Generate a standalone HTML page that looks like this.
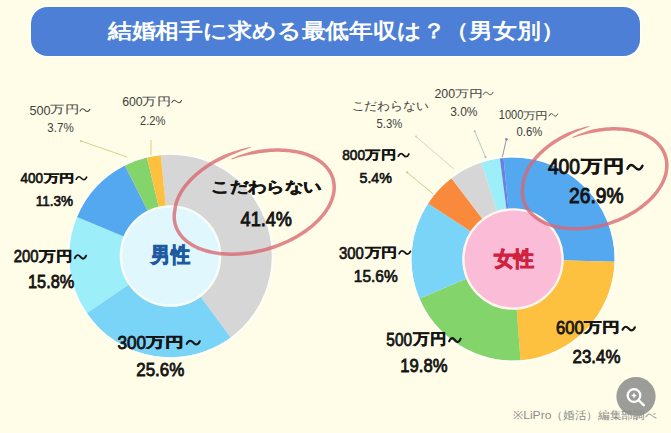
<!DOCTYPE html>
<html><head><meta charset="utf-8">
<style>
html,body{margin:0;padding:0;background:#fffde7;width:671px;height:433px;overflow:hidden}
svg{display:block;position:absolute;left:0;top:0}
text{font-family:"Liberation Sans",sans-serif}
</style></head><body>
<svg width="671" height="433" viewBox="0 0 671 433">
<rect x="0" y="0" width="671" height="433" fill="#fffde7"/>
<rect x="29.5" y="5.5" width="612" height="52" rx="18" ry="18" fill="#ffffff"/>
<rect x="31" y="7" width="609" height="49" rx="16.5" ry="16.5" fill="#4c7fd5"/>

<!-- left donut -->
<g>
<path d="M170.50,256.00 L160.79,155.17 A101.3,101.3 0 0 1 230.70,337.47 Z" fill="#d6d6d6"/>
<path d="M170.50,256.00 L230.70,337.47 A101.3,101.3 0 0 1 86.82,313.09 Z" fill="#7ad4f8"/>
<path d="M170.50,256.00 L86.82,313.09 A101.3,101.3 0 0 1 76.97,217.10 Z" fill="#9ceef8"/>
<path d="M170.50,256.00 L76.97,217.10 A101.3,101.3 0 0 1 124.92,165.53 Z" fill="#53a8f0"/>
<path d="M170.50,256.00 L124.92,165.53 A101.3,101.3 0 0 1 146.99,157.47 Z" fill="#84d46c"/>
<path d="M170.50,256.00 L146.99,157.47 A101.3,101.3 0 0 1 160.79,155.17 Z" fill="#fdc03f"/>
<circle cx="170.5" cy="256" r="102.39999999999999" fill="none" stroke="#ffffff" stroke-opacity="0.7" stroke-width="2"/>
<circle cx="170.5" cy="256" r="49.6" fill="#e0f7fd" stroke="#f8fdf4" stroke-width="2.4"/>
</g>
<!-- right donut -->
<g>
<path d="M513.00,259.00 L503.62,157.93 A101.5,101.5 0 0 1 614.46,261.73 Z" fill="#53a8f0"/>
<path d="M513.00,259.00 L614.46,261.73 A101.5,101.5 0 0 1 520.47,360.22 Z" fill="#fdc03f"/>
<path d="M513.00,259.00 L520.47,360.22 A101.5,101.5 0 0 1 419.53,298.56 Z" fill="#84d46c"/>
<path d="M513.00,259.00 L419.53,298.56 A101.5,101.5 0 0 1 428.09,203.39 Z" fill="#7ad4f8"/>
<path d="M513.00,259.00 L428.09,203.39 A101.5,101.5 0 0 1 451.44,178.30 Z" fill="#f98a3c"/>
<path d="M513.00,259.00 L451.44,178.30 A101.5,101.5 0 0 1 481.20,162.61 Z" fill="#d6d6d6"/>
<path d="M513.00,259.00 L481.20,162.61 A101.5,101.5 0 0 1 499.82,158.36 Z" fill="#9ceef8"/>
<path d="M513.00,259.00 L499.82,158.36 A101.5,101.5 0 0 1 503.62,157.93 Z" fill="#6a80e2"/>
<circle cx="513" cy="259" r="102.6" fill="none" stroke="#ffffff" stroke-opacity="0.7" stroke-width="2"/>
<circle cx="513" cy="259" r="49.6" fill="#fbbcd8" stroke="#fdf6ee" stroke-width="2.4"/>
</g>

<!-- leader lines -->
<g stroke-width="0.9" fill="none">
<line x1="81" y1="141" x2="127" y2="157" stroke="#cfcb8a"/>
<line x1="151" y1="140" x2="151" y2="155" stroke="#e6c466"/>
<line x1="416.1" y1="136.6" x2="453.7" y2="168.8" stroke="#cfcfc6"/>
<line x1="474.8" y1="131.3" x2="485.5" y2="157.2" stroke="#aac4c0"/>
<line x1="506.4" y1="139.3" x2="502.3" y2="157.2" stroke="#8088b0"/>
<line x1="407.2" y1="172.4" x2="433.1" y2="193.9" stroke="#c9c68a"/>
</g>
<g>
<circle cx="81" cy="141" r="1.1" fill="#cfcb8a"/>
<circle cx="416.1" cy="136.6" r="1.1" fill="#cfcfc6"/>
<circle cx="474.8" cy="131.3" r="1.1" fill="#aac4c0"/>
<circle cx="485.5" cy="157.2" r="1.1" fill="#aac4c0"/>
<circle cx="506.4" cy="139.3" r="1.3" fill="#8088b0"/>
<circle cx="407.2" cy="172.4" r="1.1" fill="#c9c68a"/>
</g>

<!-- zoom button -->
<circle cx="636" cy="396.5" r="19.6" fill="#9c9c98"/>
<g stroke="#ffffff" stroke-width="2.3" fill="none" stroke-linecap="round">
<circle cx="634" cy="395.5" r="6.3"/>
<line x1="638.8" y1="400.3" x2="644" y2="405.3"/>
</g>
<path d="M634,392.6 L634.9,394.6 L636.9,395.5 L634.9,396.4 L634,398.4 L633.1,396.4 L631.1,395.5 L633.1,394.6 Z" fill="#ffffff"/>

<text x="29.44" y="114.72" font-weight="normal" fill="#404040" textLength="21.10" lengthAdjust="spacingAndGlyphs"><tspan font-size="13.10" dy="0.00">500</tspan></text>
<text x="50.34" y="114.99" font-weight="normal" fill="#404040" textLength="28.80" lengthAdjust="spacingAndGlyphs"><tspan font-size="10.94" dy="-1.53">万円</tspan></text>
<path d="M80.00,111.08 C81.78,107.61 83.56,108.71 84.95,110.14 S88.11,112.67 89.89,109.19" fill="none" stroke="#404040" stroke-width="1.02" stroke-linecap="round"/>
<text x="47.34" y="132.44" font-weight="normal" fill="#404040" textLength="26.32" lengthAdjust="spacingAndGlyphs"><tspan font-size="12.96" dy="0.00">3.7%</tspan></text>
<text x="122.20" y="105.58" font-weight="normal" fill="#404040" textLength="20.50" lengthAdjust="spacingAndGlyphs"><tspan font-size="12.96" dy="0.00">600</tspan></text>
<text x="142.41" y="106.25" font-weight="normal" fill="#404040" textLength="28.32" lengthAdjust="spacingAndGlyphs"><tspan font-size="10.82" dy="-1.51">万円</tspan></text>
<path d="M171.78,102.42 C173.53,98.98 175.28,100.08 176.64,101.48 S179.75,103.99 181.49,100.55" fill="none" stroke="#404040" stroke-width="1.01" stroke-linecap="round"/>
<text x="140.10" y="124.58" font-weight="normal" fill="#404040" textLength="25.32" lengthAdjust="spacingAndGlyphs"><tspan font-size="13.10" dy="0.00">2.2%</tspan></text>
<text x="20.62" y="183.38" font-weight="bold" fill="#141414" textLength="22.49" lengthAdjust="spacingAndGlyphs"><tspan font-size="14.23" dy="0.00" font-weight="normal" stroke="#141414" stroke-width="0.64">400</tspan></text>
<text x="43.53" y="183.28" font-weight="bold" fill="#141414" textLength="30.78" lengthAdjust="spacingAndGlyphs"><tspan font-size="11.39" dy="-1.59" stroke="#141414" stroke-width="0.28">万円</tspan></text>
<path d="M76.16,179.28 C78.06,175.50 79.95,176.71 81.43,178.25 S84.80,181.00 86.69,177.22" fill="none" stroke="#141414" stroke-width="1.62" stroke-linecap="round"/>
<text x="35.72" y="205.78" font-weight="bold" fill="#141414" textLength="37.28" lengthAdjust="spacingAndGlyphs"><tspan font-size="15.07" dy="0.00" font-weight="normal" stroke="#141414" stroke-width="0.68">11.3%</tspan></text>
<text x="13.72" y="261.94" font-weight="bold" fill="#141414" textLength="24.74" lengthAdjust="spacingAndGlyphs"><tspan font-size="17.04" dy="0.00" font-weight="normal" stroke="#141414" stroke-width="0.77">200</tspan></text>
<text x="39.43" y="263.07" font-weight="bold" fill="#141414" textLength="33.15" lengthAdjust="spacingAndGlyphs"><tspan font-size="13.58" dy="-1.90" stroke="#141414" stroke-width="0.34">万円</tspan></text>
<path d="M74.81,258.13 C76.85,253.60 78.89,255.04 80.47,256.89 S84.09,260.18 86.13,255.66" fill="none" stroke="#141414" stroke-width="1.94" stroke-linecap="round"/>
<text x="28.06" y="287.90" font-weight="bold" fill="#141414" textLength="46.18" lengthAdjust="spacingAndGlyphs"><tspan font-size="17.89" dy="0.00" font-weight="normal" stroke="#141414" stroke-width="0.80">15.8%</tspan></text>
<text x="117.48" y="348.78" font-weight="bold" fill="#141414" textLength="28.62" lengthAdjust="spacingAndGlyphs"><tspan font-size="18.03" dy="0.00" font-weight="normal" stroke="#141414" stroke-width="0.81">300</tspan></text>
<text x="146.36" y="348.76" font-weight="bold" fill="#141414" textLength="37.44" lengthAdjust="spacingAndGlyphs"><tspan font-size="14.42" dy="-2.02" stroke="#141414" stroke-width="0.36">万円</tspan></text>
<path d="M186.73,343.86 C189.08,339.07 191.43,340.60 193.25,342.56 S197.43,346.04 199.78,341.25" fill="none" stroke="#141414" stroke-width="2.05" stroke-linecap="round"/>
<text x="136.24" y="376.04" font-weight="bold" fill="#141414" textLength="48.14" lengthAdjust="spacingAndGlyphs"><tspan font-size="17.75" dy="0.00" font-weight="normal" stroke="#141414" stroke-width="0.80">25.6%</tspan></text>
<text x="211.12" y="195.04" font-weight="bold" fill="#141414" textLength="110.54" lengthAdjust="spacingAndGlyphs"><tspan font-size="15.32" dy="-2.60" stroke="#141414" stroke-width="0.38">こだわらない</tspan></text>
<text x="240.62" y="225.92" font-weight="bold" fill="#141414" textLength="51.38" lengthAdjust="spacingAndGlyphs"><tspan font-size="20.42" dy="0.00" font-weight="normal" stroke="#141414" stroke-width="0.92">41.4%</tspan></text>
<text x="151.46" y="264.98" font-weight="bold" fill="#1d5aa0" textLength="38.22" lengthAdjust="spacingAndGlyphs"><tspan font-size="20.53" dy="-2.87" stroke="#1d5aa0" stroke-width="0.92">男性</tspan></text>
<text x="493.56" y="268.66" font-weight="bold" fill="#d0223f" textLength="39.92" lengthAdjust="spacingAndGlyphs"><tspan font-size="21.17" dy="-2.96" stroke="#d0223f" stroke-width="0.95">女性</tspan></text>
<text x="351.64" y="111.62" font-weight="normal" fill="#404040" textLength="76.68" lengthAdjust="spacingAndGlyphs"><tspan font-size="12.44" dy="-2.12">こだわらない</tspan></text>
<text x="376.58" y="127.92" font-weight="normal" fill="#404040" textLength="25.70" lengthAdjust="spacingAndGlyphs"><tspan font-size="13.24" dy="0.00">5.3%</tspan></text>
<text x="434.44" y="97.90" font-weight="normal" fill="#404040" textLength="20.69" lengthAdjust="spacingAndGlyphs"><tspan font-size="12.54" dy="0.00">200</tspan></text>
<text x="454.75" y="98.16" font-weight="normal" fill="#404040" textLength="27.84" lengthAdjust="spacingAndGlyphs"><tspan font-size="10.47" dy="-1.47">万円</tspan></text>
<path d="M483.34,94.34 C485.07,91.01 486.79,92.07 488.13,93.43 S491.19,95.85 492.91,92.52" fill="none" stroke="#404040" stroke-width="0.98" stroke-linecap="round"/>
<text x="450.20" y="115.66" font-weight="normal" fill="#404040" textLength="27.32" lengthAdjust="spacingAndGlyphs"><tspan font-size="12.39" dy="0.00">3.0%</tspan></text>
<text x="498.82" y="119.00" font-weight="normal" fill="#404040" textLength="24.56" lengthAdjust="spacingAndGlyphs"><tspan font-size="12.54" dy="0.00">1000</tspan></text>
<text x="522.50" y="120.04" font-weight="normal" fill="#404040" textLength="25.43" lengthAdjust="spacingAndGlyphs"><tspan font-size="10.42" dy="-1.46">万円</tspan></text>
<path d="M549.05,115.84 C550.59,112.51 552.13,113.57 553.33,114.93 S556.07,117.35 557.61,114.02" fill="none" stroke="#404040" stroke-width="0.98" stroke-linecap="round"/>
<text x="516.48" y="135.62" font-weight="normal" fill="#404040" textLength="25.80" lengthAdjust="spacingAndGlyphs"><tspan font-size="12.54" dy="0.00">0.6%</tspan></text>
<text x="342.24" y="159.74" font-weight="bold" fill="#141414" textLength="22.80" lengthAdjust="spacingAndGlyphs"><tspan font-size="15.21" dy="0.00" font-weight="normal" stroke="#141414" stroke-width="0.68">800</tspan></text>
<text x="365.49" y="160.85" font-weight="bold" fill="#141414" textLength="30.62" lengthAdjust="spacingAndGlyphs"><tspan font-size="12.14" dy="-1.70" stroke="#141414" stroke-width="0.30">万円</tspan></text>
<path d="M398.33,156.22 C400.22,152.18 402.11,153.46 403.58,155.12 S406.94,158.05 408.84,154.01" fill="none" stroke="#141414" stroke-width="1.73" stroke-linecap="round"/>
<text x="359.48" y="182.88" font-weight="bold" fill="#141414" textLength="32.42" lengthAdjust="spacingAndGlyphs"><tspan font-size="15.21" dy="0.00" font-weight="normal" stroke="#141414" stroke-width="0.68">5.4%</tspan></text>
<text x="339.10" y="258.50" font-weight="bold" fill="#141414" textLength="24.72" lengthAdjust="spacingAndGlyphs"><tspan font-size="15.92" dy="0.00" font-weight="normal" stroke="#141414" stroke-width="0.72">300</tspan></text>
<text x="364.68" y="258.43" font-weight="bold" fill="#141414" textLength="32.38" lengthAdjust="spacingAndGlyphs"><tspan font-size="12.72" dy="-1.78" stroke="#141414" stroke-width="0.32">万円</tspan></text>
<path d="M399.15,253.63 C401.17,249.40 403.20,250.75 404.77,252.48 S408.37,255.55 410.40,251.32" fill="none" stroke="#141414" stroke-width="1.81" stroke-linecap="round"/>
<text x="353.82" y="281.98" font-weight="bold" fill="#141414" textLength="43.94" lengthAdjust="spacingAndGlyphs"><tspan font-size="15.92" dy="0.00" font-weight="normal" stroke="#141414" stroke-width="0.72">15.6%</tspan></text>
<text x="386.34" y="346.10" font-weight="bold" fill="#141414" textLength="25.73" lengthAdjust="spacingAndGlyphs"><tspan font-size="18.45" dy="0.00" font-weight="normal" stroke="#141414" stroke-width="0.83">500</tspan></text>
<text x="413.21" y="346.44" font-weight="bold" fill="#141414" textLength="33.02" lengthAdjust="spacingAndGlyphs"><tspan font-size="14.66" dy="-2.05" stroke="#141414" stroke-width="0.37">万円</tspan></text>
<path d="M449.15,341.35 C451.22,336.45 453.29,338.01 454.90,340.01 S458.58,343.58 460.65,338.68" fill="none" stroke="#141414" stroke-width="2.10" stroke-linecap="round"/>
<text x="400.30" y="372.22" font-weight="bold" fill="#141414" textLength="47.18" lengthAdjust="spacingAndGlyphs"><tspan font-size="17.46" dy="0.00" font-weight="normal" stroke="#141414" stroke-width="0.79">19.8%</tspan></text>
<text x="555.96" y="334.40" font-weight="bold" fill="#141414" textLength="27.66" lengthAdjust="spacingAndGlyphs"><tspan font-size="17.89" dy="0.00" font-weight="normal" stroke="#141414" stroke-width="0.80">600</tspan></text>
<text x="584.35" y="334.36" font-weight="bold" fill="#141414" textLength="35.58" lengthAdjust="spacingAndGlyphs"><tspan font-size="14.28" dy="-2.00" stroke="#141414" stroke-width="0.36">万円</tspan></text>
<path d="M622.50,329.80 C624.73,325.05 626.96,326.56 628.69,328.50 S632.65,331.96 634.88,327.21" fill="none" stroke="#141414" stroke-width="2.03" stroke-linecap="round"/>
<text x="572.58" y="363.18" font-weight="bold" fill="#141414" textLength="47.80" lengthAdjust="spacingAndGlyphs"><tspan font-size="17.89" dy="0.00" font-weight="normal" stroke="#141414" stroke-width="0.80">23.4%</tspan></text>
<text x="547.90" y="174.34" font-weight="bold" fill="#141414" textLength="32.12" lengthAdjust="spacingAndGlyphs"><tspan font-size="21.41" dy="0.00" font-weight="normal" stroke="#141414" stroke-width="0.96">400</tspan></text>
<text x="581.48" y="174.78" font-weight="bold" fill="#141414" textLength="42.66" lengthAdjust="spacingAndGlyphs"><tspan font-size="17.10" dy="-2.39" stroke="#141414" stroke-width="0.43">万円</tspan></text>
<path d="M627.43,168.75 C630.14,163.07 632.85,164.88 634.95,167.20 S639.77,171.34 642.48,165.65" fill="none" stroke="#141414" stroke-width="2.43" stroke-linecap="round"/>
<text x="569.10" y="203.44" font-weight="bold" fill="#141414" textLength="54.42" lengthAdjust="spacingAndGlyphs"><tspan font-size="21.41" dy="0.00" font-weight="normal" stroke="#141414" stroke-width="0.96">26.9%</tspan></text>
<text x="512.58" y="420.74" font-weight="normal" fill="#8c8c8c" textLength="143.84" lengthAdjust="spacingAndGlyphs"><tspan font-size="11.44" dy="-1.95">※LiPro（婚活）編集部調べ</tspan></text>
<text x="107.80" y="41.94" font-weight="bold" fill="#ffffff" textLength="456.60" lengthAdjust="spacingAndGlyphs"><tspan font-size="21.06" dy="-3.58">結婚相手に求める最低年収は？（男女別）</tspan></text>

<!-- red ellipses -->
<g fill="#d8666f" opacity="0.78">
<path d="M250.59,146.95 L247.96,147.50 L245.33,148.10 L242.71,148.75 L240.12,149.44 L237.54,150.18 L234.98,150.96 L232.44,151.78 L229.93,152.64 L227.44,153.55 L224.98,154.50 L222.58,155.53 L220.24,156.66 L217.94,157.83 L215.68,159.03 L213.46,160.27 L211.29,161.54 L209.16,162.83 L207.08,164.16 L205.05,165.52 L203.07,166.90 L201.14,168.30 L199.27,169.74 L197.45,171.19 L195.69,172.67 L193.98,174.16 L192.34,175.68 L190.75,177.21 L189.23,178.76 L187.77,180.32 L186.37,181.90 L185.04,183.49 L183.77,185.09 L182.57,186.70 L181.44,188.32 L180.38,189.95 L179.38,191.58 L178.46,193.22 L177.61,194.86 L176.83,196.50 L176.11,198.14 L175.48,199.78 L174.91,201.42 L174.42,203.06 L174.00,204.68 L173.66,206.31 L173.39,207.92 L173.20,209.43 L172.92,210.95 L172.70,212.55 L172.55,214.15 L172.47,215.73 L172.47,217.31 L172.55,218.87 L172.69,220.42 L172.92,221.95 L173.21,223.46 L173.59,224.96 L174.03,226.43 L174.55,227.89 L175.14,229.31 L175.81,230.72 L176.54,232.09 L177.35,233.43 L178.22,234.75 L179.16,236.03 L180.17,237.28 L181.25,238.50 L182.39,239.68 L183.59,240.83 L184.85,241.94 L186.18,243.01 L187.56,244.04 L189.00,245.03 L190.50,245.99 L192.05,246.90 L193.66,247.77 L195.32,248.60 L197.02,249.39 L198.78,250.14 L200.59,250.84 L202.44,251.50 L204.33,252.11 L206.27,252.68 L208.25,253.20 L210.27,253.68 L212.32,254.12 L214.41,254.50 L216.54,254.85 L218.70,255.14 L220.88,255.39 L223.10,255.59 L225.34,255.75 L227.61,255.86 L229.90,255.92 L232.21,255.94 L234.54,255.90 L236.89,255.82 L239.25,255.70 L241.62,255.53 L244.01,255.31 L246.40,255.04 L248.80,254.73 L251.21,254.38 L253.62,253.98 L256.02,253.53 L258.43,253.04 L260.83,252.50 L263.23,251.92 L265.62,251.30 L268.00,250.64 L270.37,249.93 L272.72,249.18 L275.06,248.39 L277.38,247.56 L279.67,246.69 L281.95,245.78 L284.21,244.84 L286.43,243.86 L288.63,242.84 L290.80,241.78 L292.94,240.69 L295.05,239.57 L297.12,238.42 L299.15,237.23 L301.14,236.01 L303.10,234.76 L305.01,233.49 L306.88,232.18 L308.70,230.85 L310.47,229.50 L312.20,228.12 L313.88,226.71 L315.50,225.29 L317.07,223.84 L318.59,222.38 L320.05,220.89 L321.46,219.39 L322.80,217.87 L324.09,216.34 L325.31,214.79 L326.48,213.23 L327.58,211.66 L328.62,210.08 L329.59,208.49 L330.50,206.89 L331.34,205.29 L332.11,203.68 L332.81,202.07 L333.45,200.45 L334.01,198.83 L334.50,197.22 L334.92,195.61 L335.27,193.99 L335.55,192.39 L335.75,190.79 L335.88,189.20 L335.93,187.61 L335.91,186.04 L335.82,184.49 L335.65,182.94 L335.41,181.41 L335.09,179.90 L334.69,178.41 L334.23,176.95 L333.69,175.50 L333.07,174.08 L332.39,172.69 L331.63,171.32 L330.81,169.98 L329.92,168.68 L328.95,167.40 L327.93,166.16 L326.83,164.96 L325.68,163.79 L324.46,162.65 L323.17,161.55 L321.83,160.49 L320.43,159.47 L318.97,158.49 L317.46,157.55 L315.89,156.65 L314.27,155.79 L312.60,154.97 L310.87,154.19 L309.08,153.46 L307.22,152.79 L305.33,152.18 L303.40,151.60 L301.42,151.08 L299.41,150.60 L297.37,150.16 L295.28,149.77 L293.17,149.43 L291.03,149.13 L288.85,148.88 L286.65,148.67 L284.42,148.52 L282.17,148.41 L279.90,148.34 L277.61,148.32 L275.30,148.35 L272.98,148.43 L270.64,148.55 L268.29,148.72 L265.93,148.93 L263.57,149.19 L261.20,149.49 L258.82,149.84 L256.44,150.23 L254.08,150.74 L251.74,151.34 L249.40,151.99 L247.08,152.68 L244.77,153.40 L242.47,154.17 L240.19,154.98 L237.93,155.83 L235.69,156.71 L233.47,157.63 L231.28,158.59 L231.59,159.41 L233.86,158.69 L236.14,158.01 L238.43,157.37 L240.74,156.77 L243.05,156.21 L245.38,155.69 L247.71,155.21 L250.05,154.78 L252.38,154.39 L254.72,154.04 L257.05,153.68 L259.36,153.30 L261.67,152.96 L263.98,152.66 L266.28,152.41 L268.57,152.20 L270.86,152.04 L273.12,151.92 L275.38,151.85 L277.62,151.82 L279.84,151.84 L282.04,151.90 L284.21,152.01 L286.36,152.16 L288.49,152.36 L290.59,152.60 L292.65,152.89 L294.68,153.22 L296.68,153.59 L298.64,154.01 L300.56,154.47 L302.45,154.97 L304.29,155.52 L306.09,156.10 L307.83,156.73 L309.49,157.41 L311.11,158.14 L312.68,158.90 L314.20,159.71 L315.66,160.55 L317.07,161.43 L318.42,162.34 L319.72,163.28 L320.95,164.26 L322.12,165.26 L323.24,166.30 L324.29,167.36 L325.28,168.46 L326.21,169.58 L327.07,170.72 L327.88,171.89 L328.61,173.09 L329.29,174.31 L329.90,175.55 L330.44,176.81 L330.92,178.09 L331.33,179.39 L331.68,180.71 L331.96,182.05 L332.18,183.41 L332.33,184.78 L332.42,186.17 L332.43,187.58 L332.39,189.00 L332.27,190.43 L332.09,191.87 L331.84,193.33 L331.52,194.79 L331.14,196.27 L330.68,197.75 L330.16,199.23 L329.58,200.73 L328.93,202.22 L328.21,203.72 L327.42,205.21 L326.58,206.71 L325.66,208.20 L324.68,209.69 L323.64,211.18 L322.54,212.66 L321.38,214.13 L320.15,215.58 L318.87,217.03 L317.53,218.47 L316.13,219.89 L314.67,221.30 L313.16,222.69 L311.60,224.06 L309.98,225.41 L308.32,226.74 L306.60,228.05 L304.84,229.34 L303.03,230.60 L301.18,231.83 L299.29,233.04 L297.35,234.22 L295.38,235.38 L293.37,236.50 L291.32,237.59 L289.24,238.65 L287.13,239.68 L284.99,240.67 L282.82,241.62 L280.63,242.55 L278.41,243.43 L276.17,244.28 L273.91,245.08 L271.63,245.85 L269.33,246.58 L267.03,247.27 L264.71,247.92 L262.38,248.53 L260.04,249.09 L257.70,249.61 L255.35,250.09 L253.01,250.53 L250.66,250.92 L248.32,251.27 L245.99,251.57 L243.66,251.83 L241.34,252.04 L239.03,252.21 L236.74,252.33 L234.46,252.40 L232.20,252.44 L229.96,252.42 L227.74,252.36 L225.55,252.26 L223.38,252.11 L221.24,251.91 L219.13,251.67 L217.05,251.38 L215.01,251.06 L213.00,250.68 L211.03,250.27 L209.10,249.81 L207.21,249.31 L205.37,248.77 L203.56,248.18 L201.81,247.56 L200.10,246.89 L198.44,246.19 L196.83,245.45 L195.28,244.67 L193.77,243.85 L192.33,243.00 L190.93,242.11 L189.60,241.20 L188.32,240.24 L187.11,239.26 L185.95,238.24 L184.85,237.20 L183.82,236.13 L182.85,235.02 L181.94,233.90 L181.09,232.74 L180.31,231.57 L179.59,230.36 L178.93,229.14 L178.34,227.89 L177.82,226.63 L177.36,225.34 L176.96,224.03 L176.63,222.70 L176.37,221.36 L176.17,220.00 L176.04,218.62 L175.97,217.23 L175.97,215.82 L176.04,214.39 L176.18,212.96 L176.38,211.51 L176.66,209.96 L176.85,208.42 L177.10,206.96 L177.41,205.48 L177.79,204.00 L178.24,202.50 L178.76,200.99 L179.35,199.47 L180.01,197.95 L180.74,196.42 L181.54,194.89 L182.40,193.35 L183.34,191.82 L184.34,190.28 L185.41,188.75 L186.55,187.22 L187.75,185.70 L189.02,184.19 L190.36,182.68 L191.76,181.18 L193.22,179.70 L194.74,178.22 L196.32,176.76 L197.96,175.32 L199.66,173.90 L201.42,172.49 L203.24,171.11 L205.10,169.75 L207.02,168.41 L208.99,167.09 L211.01,165.80 L213.08,164.54 L215.19,163.31 L217.35,162.11 L219.55,160.94 L221.79,159.80 L224.07,158.69 L226.36,157.56 L228.67,156.41 L231.01,155.29 L233.38,154.22 L235.79,153.18 L238.23,152.18 L240.70,151.22 L243.19,150.30 L245.71,149.42 L248.25,148.59 L250.81,147.80 Z"/>
<path d="M589.26,125.96 L586.88,126.50 L584.51,127.08 L582.15,127.71 L579.81,128.38 L577.49,129.10 L575.18,129.86 L572.90,130.65 L570.64,131.49 L568.40,132.37 L566.19,133.29 L564.04,134.29 L561.95,135.39 L559.90,136.52 L557.88,137.69 L555.91,138.88 L553.97,140.11 L552.08,141.37 L550.23,142.65 L548.43,143.96 L546.68,145.30 L544.97,146.66 L543.32,148.05 L541.71,149.45 L540.16,150.88 L538.66,152.32 L537.22,153.79 L535.83,155.27 L534.50,156.76 L533.23,158.27 L532.01,159.79 L530.86,161.33 L529.76,162.87 L528.73,164.42 L527.76,165.99 L526.85,167.55 L526.01,169.12 L525.22,170.70 L524.51,172.28 L523.86,173.86 L523.27,175.44 L522.75,177.02 L522.30,178.59 L521.91,180.16 L521.59,181.72 L521.34,183.28 L521.16,184.83 L521.04,186.28 L520.84,187.73 L520.70,189.27 L520.62,190.80 L520.61,192.32 L520.67,193.82 L520.80,195.32 L520.99,196.80 L521.25,198.27 L521.58,199.71 L521.97,201.14 L522.43,202.55 L522.96,203.94 L523.55,205.30 L524.20,206.64 L524.92,207.95 L525.70,209.23 L526.55,210.49 L527.45,211.71 L528.42,212.91 L529.44,214.07 L530.52,215.19 L531.66,216.29 L532.85,217.34 L534.10,218.36 L535.40,219.35 L536.75,220.29 L538.15,221.20 L539.60,222.07 L541.10,222.90 L542.64,223.69 L544.23,224.44 L545.86,225.14 L547.53,225.81 L549.24,226.43 L551.00,227.01 L552.78,227.55 L554.61,228.04 L556.47,228.49 L558.36,228.90 L560.28,229.26 L562.23,229.58 L564.21,229.85 L566.21,230.08 L568.24,230.27 L570.29,230.40 L572.37,230.50 L574.46,230.55 L576.56,230.55 L578.69,230.51 L580.82,230.42 L582.97,230.29 L585.13,230.11 L587.30,229.89 L589.47,229.62 L591.65,229.31 L593.83,228.96 L596.01,228.56 L598.19,228.12 L600.36,227.64 L602.53,227.11 L604.70,226.54 L606.85,225.93 L608.99,225.28 L611.13,224.59 L613.24,223.86 L615.35,223.09 L617.43,222.28 L619.49,221.44 L621.53,220.56 L623.55,219.64 L625.55,218.68 L627.52,217.69 L629.45,216.67 L631.36,215.61 L633.24,214.52 L635.09,213.40 L636.89,212.25 L638.67,211.08 L640.40,209.87 L642.10,208.63 L643.75,207.37 L645.36,206.08 L646.93,204.77 L648.45,203.44 L649.93,202.08 L651.36,200.71 L652.74,199.31 L654.07,197.89 L655.34,196.46 L656.57,195.01 L657.74,193.54 L658.85,192.07 L659.91,190.57 L660.92,189.07 L661.86,187.56 L662.75,186.03 L663.58,184.50 L664.34,182.96 L665.05,181.42 L665.69,179.87 L666.27,178.32 L666.79,176.77 L667.24,175.21 L667.63,173.66 L667.96,172.11 L668.21,170.56 L668.40,169.02 L668.53,167.49 L668.59,165.96 L668.58,164.45 L668.50,162.95 L668.35,161.45 L668.14,159.98 L667.86,158.52 L667.52,157.07 L667.10,155.65 L666.63,154.25 L666.08,152.87 L665.47,151.51 L664.80,150.18 L664.06,148.88 L663.26,147.60 L662.40,146.36 L661.48,145.14 L660.49,143.96 L659.45,142.81 L658.36,141.69 L657.20,140.61 L655.99,139.56 L654.73,138.55 L653.42,137.58 L652.05,136.64 L650.64,135.74 L649.17,134.89 L647.66,134.07 L646.11,133.29 L644.50,132.55 L642.84,131.86 L641.12,131.23 L639.37,130.65 L637.59,130.11 L635.77,129.61 L633.92,129.16 L632.03,128.75 L630.12,128.39 L628.18,128.07 L626.21,127.79 L624.22,127.56 L622.20,127.38 L620.17,127.24 L618.11,127.14 L616.04,127.09 L613.95,127.08 L611.84,127.12 L609.73,127.21 L607.60,127.33 L605.46,127.51 L603.32,127.72 L601.17,127.98 L599.02,128.29 L596.87,128.63 L594.72,129.02 L592.58,129.53 L590.47,130.12 L588.36,130.76 L586.27,131.43 L584.19,132.14 L582.13,132.90 L580.09,133.69 L578.06,134.51 L576.06,135.38 L574.08,136.28 L572.12,137.21 L572.45,138.02 L574.49,137.32 L576.54,136.66 L578.60,136.04 L580.68,135.46 L582.76,134.92 L584.86,134.41 L586.96,133.95 L589.06,133.53 L591.17,133.15 L593.28,132.81 L595.38,132.46 L597.46,132.08 L599.55,131.75 L601.63,131.45 L603.71,131.20 L605.78,130.99 L607.85,130.83 L609.90,130.70 L611.94,130.62 L613.97,130.58 L615.99,130.59 L617.99,130.64 L619.97,130.73 L621.92,130.86 L623.86,131.04 L625.77,131.26 L627.65,131.53 L629.51,131.83 L631.34,132.18 L633.13,132.57 L634.89,133.00 L636.62,133.47 L638.31,133.98 L639.96,134.53 L641.56,135.12 L643.10,135.76 L644.59,136.45 L646.05,137.17 L647.46,137.94 L648.82,138.73 L650.13,139.56 L651.39,140.43 L652.60,141.32 L653.75,142.25 L654.86,143.21 L655.91,144.19 L656.91,145.21 L657.85,146.25 L658.73,147.32 L659.56,148.41 L660.34,149.53 L661.05,150.67 L661.71,151.84 L662.31,153.02 L662.86,154.23 L663.34,155.46 L663.77,156.70 L664.13,157.97 L664.44,159.25 L664.69,160.55 L664.88,161.87 L665.01,163.20 L665.08,164.55 L665.09,165.91 L665.03,167.28 L664.92,168.67 L664.75,170.06 L664.52,171.47 L664.22,172.88 L663.87,174.30 L663.45,175.72 L662.97,177.15 L662.44,178.58 L661.84,180.02 L661.19,181.45 L660.47,182.89 L659.70,184.32 L658.87,185.75 L657.98,187.17 L657.03,188.59 L656.03,190.00 L654.97,191.40 L653.86,192.79 L652.70,194.17 L651.48,195.53 L650.21,196.88 L648.90,198.22 L647.53,199.53 L646.12,200.83 L644.65,202.11 L643.15,203.37 L641.60,204.61 L640.00,205.83 L638.37,207.02 L636.70,208.18 L634.99,209.32 L633.24,210.43 L631.46,211.51 L629.64,212.57 L627.79,213.59 L625.91,214.58 L624.01,215.54 L622.07,216.46 L620.12,217.36 L618.13,218.21 L616.13,219.03 L614.11,219.82 L612.07,220.56 L610.02,221.27 L607.95,221.94 L605.87,222.57 L603.77,223.16 L601.67,223.72 L599.57,224.23 L597.46,224.70 L595.35,225.12 L593.23,225.51 L591.12,225.85 L589.01,226.15 L586.91,226.41 L584.81,226.62 L582.72,226.80 L580.65,226.92 L578.58,227.01 L576.53,227.05 L574.50,227.05 L572.48,227.00 L570.49,226.91 L568.52,226.78 L566.57,226.60 L564.65,226.38 L562.75,226.12 L560.88,225.82 L559.05,225.47 L557.25,225.08 L555.48,224.65 L553.74,224.18 L552.05,223.68 L550.39,223.13 L548.78,222.54 L547.20,221.91 L545.67,221.25 L544.18,220.55 L542.74,219.81 L541.35,219.04 L540.00,218.23 L538.71,217.39 L537.46,216.52 L536.26,215.61 L535.12,214.68 L534.03,213.71 L533.00,212.72 L532.02,211.70 L531.09,210.65 L530.22,209.57 L529.41,208.47 L528.65,207.35 L527.95,206.20 L527.31,205.03 L526.72,203.83 L526.20,202.62 L525.73,201.39 L525.32,200.13 L524.97,198.86 L524.68,197.57 L524.45,196.27 L524.28,194.95 L524.17,193.61 L524.11,192.26 L524.12,190.90 L524.19,189.52 L524.32,188.13 L524.52,186.65 L524.64,185.17 L524.81,183.77 L525.03,182.35 L525.33,180.93 L525.68,179.49 L526.10,178.05 L526.57,176.59 L527.12,175.14 L527.72,173.67 L528.39,172.20 L529.12,170.73 L529.91,169.26 L530.76,167.79 L531.67,166.32 L532.65,164.85 L533.68,163.39 L534.78,161.94 L535.93,160.49 L537.15,159.05 L538.42,157.63 L539.74,156.21 L541.12,154.81 L542.56,153.43 L544.05,152.06 L545.59,150.70 L547.19,149.37 L548.83,148.06 L550.52,146.77 L552.26,145.50 L554.05,144.26 L555.88,143.05 L557.75,141.86 L559.66,140.70 L561.62,139.57 L563.61,138.47 L565.64,137.40 L567.67,136.30 L569.71,135.19 L571.79,134.11 L573.91,133.06 L576.05,132.05 L578.23,131.08 L580.43,130.15 L582.66,129.25 L584.92,128.39 L587.19,127.58 L589.49,126.80 Z"/>
</g>

</svg>
</body></html>
